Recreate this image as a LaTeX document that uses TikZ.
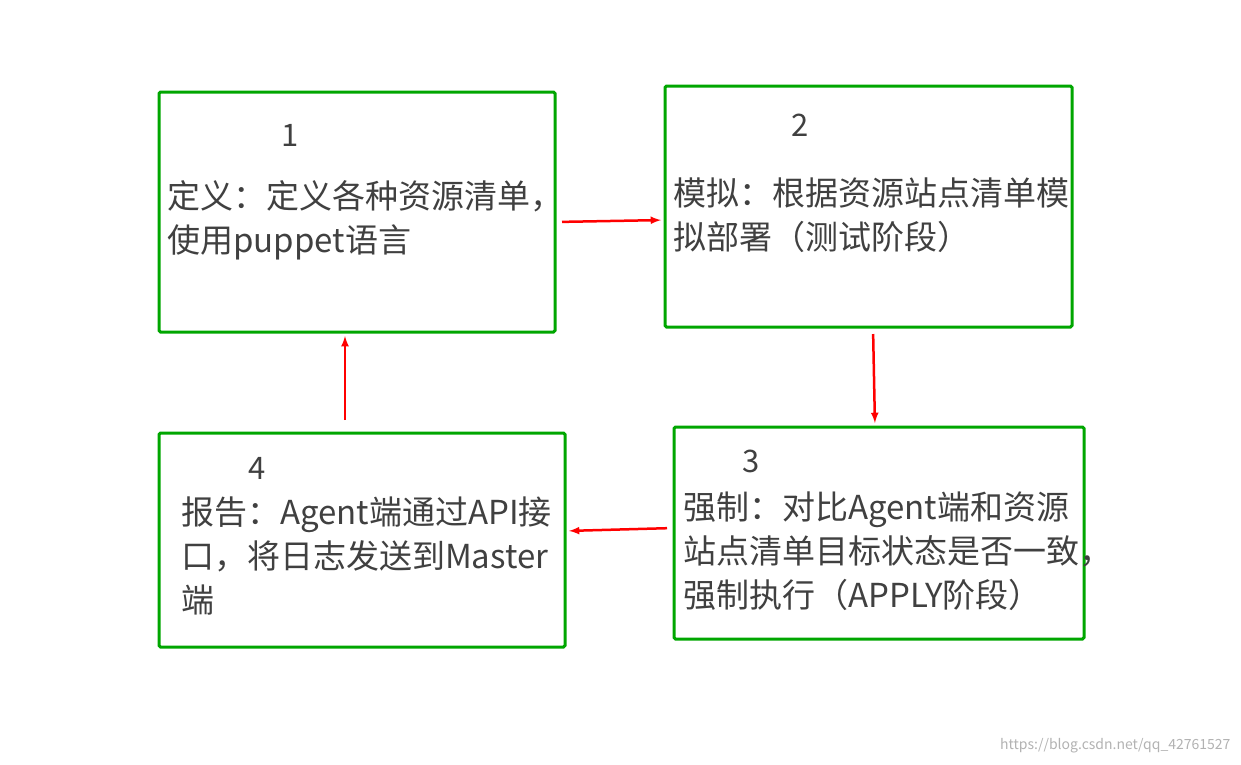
\documentclass[tikz,border=0pt]{standalone}
\usepackage{fontspec}
\setmainfont{Noto Sans CJK SC}
\usetikzlibrary{positioning}
\tikzset{x=1pt,y=-1pt,
    step box/.style={
        draw=green!65!black,
        line width=3pt,
        rounded corners=1.5pt},
    step text/.style={
        anchor=north west,
        inner sep=0pt,
        align=left,
        text=black!75,
        font=\fontsize{33}{44}\selectfont},
    step num/.style={
        inner sep=0pt,
        text=black!75,
        font=\fontsize{31}{31}\selectfont},
    flow/.style={
        draw=red,
        ->,>=latex,
        line width=2.5pt,
        shorten >=4pt,shorten <=7pt}}
\begin{document}
\begin{tikzpicture}
    \useasboundingbox (0,0) rectangle (1241,764);
    % boxes
    \draw[step box] (159,92) rectangle (555,332);
    \draw[step box] (665,86) rectangle (1072,327);
    \draw[step box] (674,427) rectangle (1084,639);
    \draw[step box] (159,433) rectangle (565,647);
    \coordinate (b1e) at (555,222);
    \coordinate (b2w) at (665,220);
    \coordinate (b2s) at (873,327);
    \coordinate (b3n) at (875,427);
    \coordinate (b3w) at (674,528);
    \coordinate (b4e) at (565,531);
    \coordinate (b4n) at (345,427);
    \coordinate (b1s) at (345,332);
    % numbers
    \node[step num] (n1) at (290,135) {1};
    \node[step num] (n2) at (800,125) {2};
    \node[step num] (n3) at (751,461) {3};
    \node[step num] (n4) at (257,468) {4};
    % texts
    \node[step text] (t1) at (167,180) {定义：定义各种资源清单，\\使用puppet语言};
    \node[step text] (t2) at (673,178) {模拟：根据资源站点清单模\\拟部署（测试阶段）};
    \node[step text] (t3) at (683,492) {强制：对比Agent端和资源\\站点清单目标状态是否一致，\\强制执行（APPLY阶段）};
    \node[step text] (t4) at (181,497) {报告：Agent端通过API接\\口，将日志发送到Master\\端};
    % arrows
    \draw[flow] (b1e) -- (b2w);
    \draw[flow] (b2s) -- (b3n);
    \draw[flow] (b3w) -- (b4e);
    \draw[flow] (b4n) -- (b1s);
    \node[anchor=east,text=black!30,font=\fontsize{14}{14}\selectfont] (wm) at (1234,746) {https://blog.csdn.net/qq\_42761527};
\end{tikzpicture}
\end{document}
